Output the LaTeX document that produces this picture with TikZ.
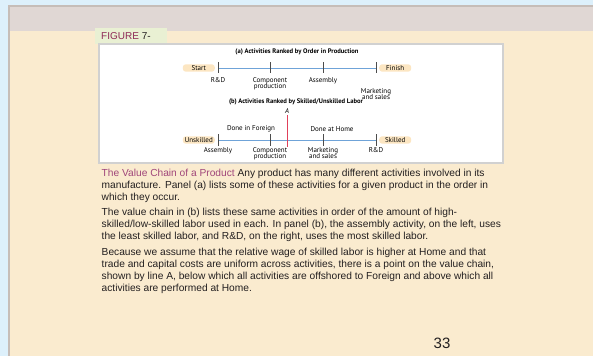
\documentclass[tikz,border=0pt]{standalone}
\usepackage{fontspec}
\setmainfont{Liberation Sans}
\newfontfamily\figfont{PT Sans}
\usetikzlibrary{positioning}
\definecolor{pageblue}{HTML}{DDF0FB}
\definecolor{frame}{HTML}{C6BDB8}
\definecolor{band}{HTML}{E0D7D4}
\definecolor{cream}{HTML}{FAEBCF}
\definecolor{figgreen}{HTML}{E9F0D3}
\definecolor{maroon}{HTML}{8E2A55}
\definecolor{lead}{HTML}{A0467A}
\definecolor{chainblue}{HTML}{6FA3D8}
\definecolor{tagfill}{HTML}{FCE6C2}
\definecolor{lineA}{HTML}{E0405A}
\definecolor{ink}{HTML}{231F20}

\tikzset{
  lab/.style={font=\figfont\fontsize{7}{6.5}\selectfont, align=center, inner sep=0pt},
  paneltitle/.style={font=\figfont\bfseries\fontsize{6.6}{7}\selectfont, inner sep=0pt},
  endtag/.style={font=\figfont\fontsize{7}{7}\selectfont, fill=tagfill, rounded corners=3pt,
    minimum width=32pt, minimum height=7.4pt, inner sep=0.5pt},
  tick/.style={black!70, line width=0.4pt},
  body/.style={font=\fontsize{10.2}{12}\selectfont, text=ink, align=left, anchor=north west, inner sep=0pt},
}

\begin{document}
\begin{tikzpicture}[x=1pt,y=-1pt]
\useasboundingbox (0,0) rectangle (593,356);
% page
\fill[pageblue] (0,0) rectangle (593,356);
\fill[frame] (8,5) rectangle (593,356);
\fill[band] (10,7) rectangle (593,31);
\fill[cream] (10,31) rectangle (593,356);
% figure tab
\fill[figgreen] (95,28) rectangle (167,44);
\node[anchor=west, inner sep=0pt, font=\fontsize{10}{12}\selectfont] (figtab) at (101,36.5)
  {\textcolor{maroon}{FIGURE} \textcolor{ink}{7-}};
% panel
\fill[black!18] (98,43) rectangle (504,164);
\fill[white] (99.5,44.5) rectangle (502,162);

\scope % (a) order in production
\coordinate (a0) at (218,68);
\coordinate (a1) at (270,68);
\coordinate (a2) at (323,68);
\coordinate (a3) at (376,68);
\draw[chainblue, line width=0.7pt] (a0) -- (a3);
\foreach \i in {0,...,3} \draw[tick] ([yshift=6pt]a\i) -- ([yshift=-5pt]a\i);
\node[paneltitle] (titlea) at (297,52) {(a) Activities Ranked by Order in Production};
\node[endtag, left=3pt of a0] (start) {Start};
\node[endtag, right=3pt of a3] (finish) {Finish};
\node[lab, below=9pt of a0] (rda) {R\&D};
\node[lab, below=9pt of a1] (compa) {Component\\production};
\node[lab, below=9pt of a2] (assemblya) {Assembly};
\node[lab, below=20pt of a3] (mkta) {Marketing\\and sales};
\endscope

\scope % (b) skilled / unskilled labor
\coordinate (b0) at (218,140);
\coordinate (b1) at (270,140);
\coordinate (b2) at (323,140);
\coordinate (b3) at (376,140);
\draw[chainblue, line width=0.7pt] (b0) -- (b3);
\foreach \i in {0,...,3} \draw[tick] ([yshift=6pt]b\i) -- ([yshift=-6pt]b\i);
\node[paneltitle] (titleb) at (296,101.5) {(b) Activities Ranked by Skilled/Unskilled Labor};
\node[endtag, left=3pt of b0] (unskilled) {Unskilled};
\node[endtag, right=3pt of b3] (skilled) {Skilled};
\node[lab, below=7pt of b0] (assemblyb) {Assembly};
\node[lab, below=7pt of b1] (compb) {Component\\production};
\node[lab, below=7pt of b2] (mktb) {Marketing\\and sales};
\node[lab, below=7pt of b3] (rdb) {R\&D};
\node[lab] (foreign) at (251,129) {Done in Foreign};
\node[lab] (home) at (332,129) {Done at Home};
% line A
\coordinate (Atop) at (287,115);
\coordinate (Abot) at (287,147);
\draw[lineA, line width=0.8pt] (Atop) -- (Abot);
\node[lab, above=1pt of Atop] (labA) {\textit{A}};
\endscope

% caption
\node[body] (para1) at (101.5,169)
  {\textcolor{lead}{The Value Chain of a Product} Any product has many different activities involved in its\\
   manufacture. Panel (a) lists some of these activities for a given product in the order in\\
   which they occur.};
\node[body] (para2) at (101.5,208)
  {The value chain in (b) lists these same activities in order of the amount of high-\\
   skilled/low-skilled labor used in each. In panel (b), the assembly activity, on the left, uses\\
   the least skilled labor, and R\&D, on the right, uses the most skilled labor.};
\node[body] (para3) at (101.5,248)
  {Because we assume that the relative wage of skilled labor is higher at Home and that\\
   trade and capital costs are uniform across activities, there is a point on the value chain,\\
   shown by line A, below which all activities are offshored to Foreign and above which all\\
   activities are performed at Home.};
\node[font=\fontsize{15}{18}\selectfont, text=ink, inner sep=0pt] (pagenum) at (442,343) {33};
\end{tikzpicture}
\end{document}
